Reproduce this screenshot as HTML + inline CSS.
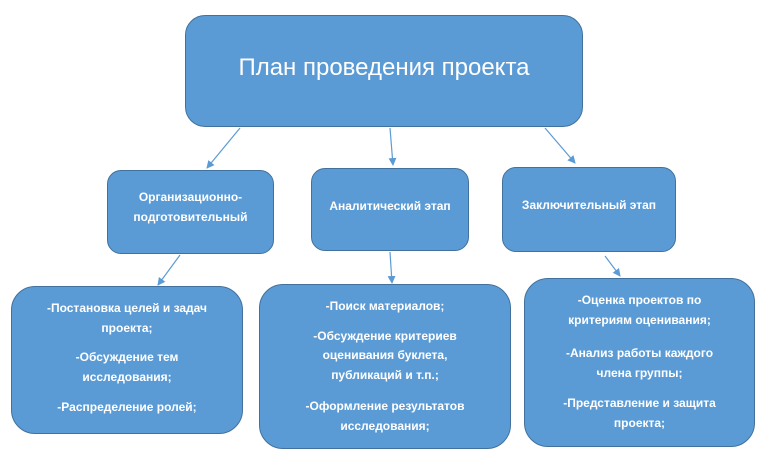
<!DOCTYPE html>
<html><head><meta charset="utf-8"><style>
body{margin:0;width:767px;height:462px;background:#fff;position:relative;overflow:hidden;font-family:"Liberation Sans",sans-serif;}
.b{position:absolute;box-sizing:border-box;background:#5b9bd5;border:1.3px solid #41719c;color:#fff;text-align:center;font-weight:bold;font-size:12px;}
.b p{margin:0;line-height:19.5px;}
svg{position:absolute;left:0;top:0}
</style></head><body>
<div class="b" style="left:185px;top:15px;width:398px;height:112px;border-radius:20px;font-weight:normal;font-size:24px;line-height:104px;">План проведения проекта</div>
<div class="b" style="left:107px;top:170px;width:167px;height:84px;border-radius:14px;padding-top:17px;"><p>Организационно-</p><p>подготовительный</p></div>
<div class="b" style="left:311px;top:168px;width:158px;height:83px;border-radius:14px;padding-top:28px;"><p>Аналитический этап</p></div>
<div class="b" style="left:502px;top:167px;width:174px;height:85px;border-radius:14px;padding-top:28px;"><p>Заключительный этап</p></div>
<div class="b" style="left:11px;top:286px;width:232px;height:148px;border-radius:24px;padding-top:12px;"><p>-Постановка целей и задач</p><p>проекта;</p><p style="margin-top:10px">-Обсуждение тем</p><p>исследования;</p><p style="margin-top:11px">-Распределение ролей;</p></div>
<div class="b" style="left:259px;top:284px;width:252px;height:165px;border-radius:24px;padding-top:12px;"><p>-Поиск материалов;</p><p style="margin-top:10px">-Обсуждение критериев</p><p>оценивания буклета,</p><p>публикаций и т.п.;</p><p style="margin-top:12px">-Оформление результатов</p><p>исследования;</p></div>
<div class="b" style="left:524px;top:278px;width:231px;height:169px;border-radius:24px;padding-top:12px;"><p>-Оценка проектов по</p><p>критериям оценивания;</p><p style="margin-top:14px">-Анализ работы каждого</p><p>члена группы;</p><p style="margin-top:11px">-Представление и защита</p><p>проекта;</p></div>
<svg width="767" height="462">
<defs><marker id="a" markerWidth="8" markerHeight="8" refX="7" refY="4" orient="auto" markerUnits="userSpaceOnUse"><path d="M0,0 L8,4 L0,8 z" fill="#5b9bd5"/></marker></defs>
<g stroke="#5b9bd5" stroke-width="1.2" marker-end="url(#a)">
<line x1="240" y1="128" x2="207" y2="168"/>
<line x1="390" y1="128" x2="393" y2="165"/>
<line x1="545" y1="128" x2="575" y2="163"/>
<line x1="180" y1="255" x2="158" y2="285"/>
<line x1="390" y1="252" x2="392" y2="283"/>
<line x1="605" y1="256" x2="620" y2="276"/>
</g></svg>
</body></html>
